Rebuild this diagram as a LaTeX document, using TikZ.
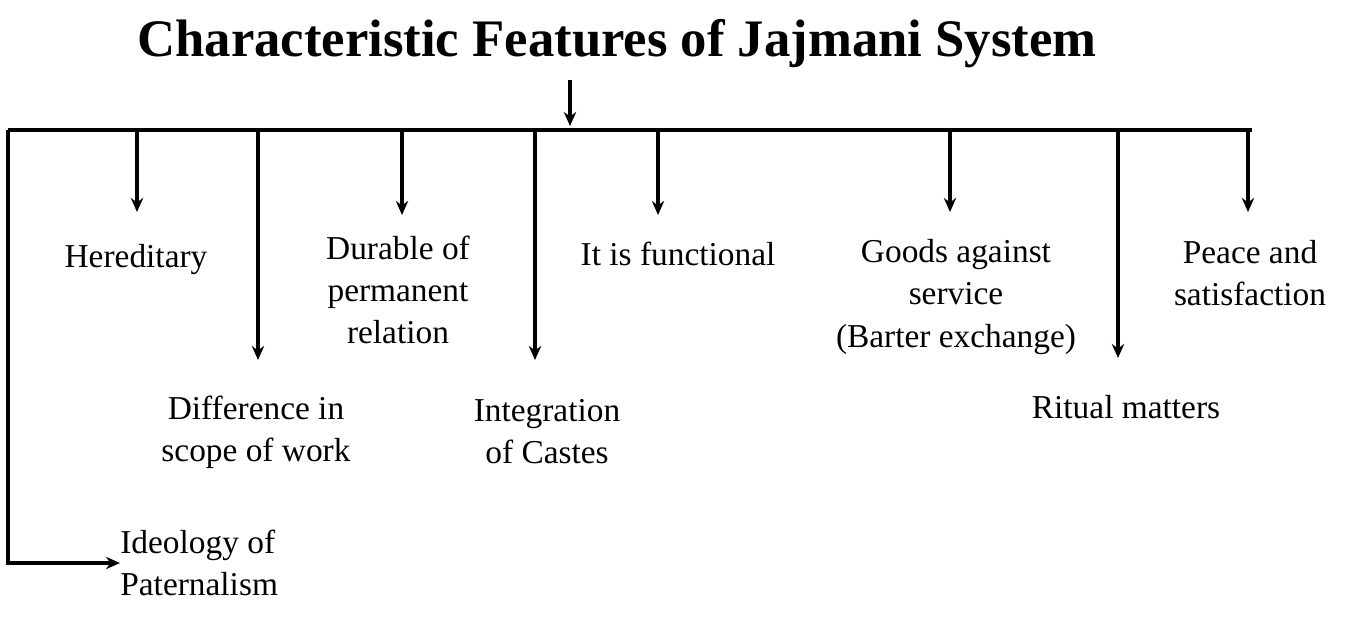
\documentclass[tikz,border=0pt]{standalone}
\usepackage{fontspec}
\setmainfont{Liberation Serif}
\usetikzlibrary{positioning,arrows.meta}
\begin{document}
\begin{tikzpicture}
  [
    x=0.02cm, y=-0.02cm,
    >={Stealth[length=8pt,width=7pt]},
    bar/.style  = {line width = 1.8pt},
    feat/.style = {align = center, font = \fontsize{19}{24}\selectfont, inner sep = 0pt},
  ]
 \useasboundingbox (0,0) rectangle (1368,620);

 \node [font=\fontsize{30}{36}\selectfont\bfseries] (title) at (617,44) {Characteristic Features of Jajmani System};

 \coordinate (L) at (8,130);
 \coordinate (R) at (1252,130);
 \coordinate (T) at (570,80);
 \coordinate (M) at (570,126);
 \coordinate (C) at (8,563);

 \node [feat] (hered) at (136,260) {Hereditary};
 \node [feat] (diff)  at (256,432) {Difference in\\scope of work};
 \node [feat] (dura)  at (398,290) {Durable of\\permanent\\relation};
 \node [feat] (integ) at (547,432) {Integration\\of Castes};
 \node [feat] (func)  at (678,254) {It is functional};
 \node [feat] (goods) at (956,297) {Goods against\\service\\(Barter exchange)};
 \node [feat] (rit)   at (1126,407) {Ritual matters};
 \node [feat] (peace) at (1250,273) {Peace and\\satisfaction};
 \node [feat, align=left, anchor=west] (ideo) at (120,563) {Ideology of\\Paternalism};

 \draw [bar] (L) -- (R);
 \draw [bar, ->] (T) -- (M);
 \draw [bar, ->] (L) -- (C) -- (ideo.west);

 \foreach \x/\y in {137/212, 258/360, 402/215, 535/360, 658/215, 950/212, 1118/358, 1248/212}
   \draw [bar, ->] (\x,130) -- (\x,\y);
\end{tikzpicture}
\end{document}
